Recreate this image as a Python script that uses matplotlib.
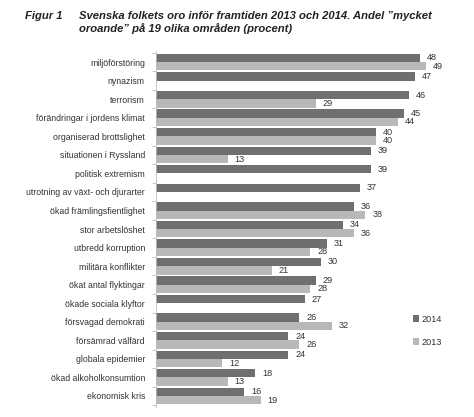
import matplotlib
matplotlib.use("Agg")
import matplotlib.pyplot as plt
import numpy as np

plt.rcParams['font.family'] = ['Liberation Sans', 'DejaVu Sans']

# data
kategorier = ["miljöförstöring", "nynazism", "terrorism",
              "förändringar i jordens klimat", "organiserad brottslighet",
              "situationen i Ryssland", "politisk extremism",
              "utrotning av växt- och djurarter", "ökad främlingsfientlighet",
              "stor arbetslöshet", "utbredd korruption", "militära konflikter",
              "ökat antal flyktingar", "ökade sociala klyftor",
              "försvagad demokrati", "försämrad välfärd", "globala epidemier",
              "ökad alkoholkonsumtion", "ekonomisk kris"]
v2014 = [48, 47, 46, 45, 40, 39, 39, 37, 36, 34, 31, 30, 29, 27, 26, 24, 24, 18, 16]
v2013 = [49, None, 29, 44, 40, 13, None, None, 38, 36, 28, 21, 28, None, 32, 26, 12, 13, 19]

mork = "#6f6f6f"
ljus = "#b8b8b8"
txt = "#333333"

fig = plt.figure(figsize=(4.74, 4.17), dpi=100)
ax = fig.add_axes([0.3291, 0.0237, 0.639, 0.854])

y = np.arange(len(kategorier))
h = 0.45
b1 = ax.barh(y - h / 2, v2014, height=h, color=mork, label="2014")
v13 = [np.nan if v is None else v for v in v2013]
b2 = ax.barh(y + h / 2, v13, height=h, color=ljus, label="2013")

for yi, v in zip(y, v2014):
    ax.annotate(str(v), (v, yi - h / 2), xytext=(5, 0), textcoords="offset points",
                va="center", ha="left", fontsize=6.6, color=txt)
for yi, v in zip(y, v2013):
    if v is None:
        continue
    ax.annotate(str(v), (v, yi + h / 2), xytext=(5, 0), textcoords="offset points",
                va="center", ha="left", fontsize=6.6, color=txt)

ax.set_xlim(0, 55)
ax.set_ylim(18.6, -0.6)
ax.set_yticks(y)
ax.set_yticklabels(kategorier, fontsize=6.3, color=txt)
ax.set_yticks(np.arange(-0.5, 19, 1), minor=True)
ax.tick_params(axis="y", which="major", length=0, pad=8)
ax.tick_params(axis="y", which="minor", length=3, color="#bbbbbb", width=0.6)
ax.set_xticks([])
for s in ["top", "right", "bottom"]:
    ax.spines[s].set_visible(False)
ax.spines["left"].set_color("#bbbbbb")
ax.spines["left"].set_linewidth(0.6)
ax.spines["left"].set_bounds(-0.6, 18.6)

fig.legend(handles=[b1, b2], loc="upper left", bbox_to_anchor=(0.861, 0.256),
           frameon=False, fontsize=6.6, handlelength=0.7, handleheight=0.7,
           handletextpad=0.3, labelspacing=1.5, borderpad=0, labelcolor=txt)

fig.text(0.053, 1 - 11 / 417, "Figur 1", fontsize=8.1, fontweight="bold",
         fontstyle="italic", va="top", ha="left", color="#222222")
fig.text(0.167, 1 - 11 / 417,
         "Svenska folkets oro inför framtiden 2013 och 2014. Andel ”mycket\noroande” på 19 olika områden (procent)",
         fontsize=8.1, fontweight="bold", fontstyle="italic", va="top", ha="left",
         linespacing=1.25, color="#222222")

fig.savefig("out.png", dpi=100)
